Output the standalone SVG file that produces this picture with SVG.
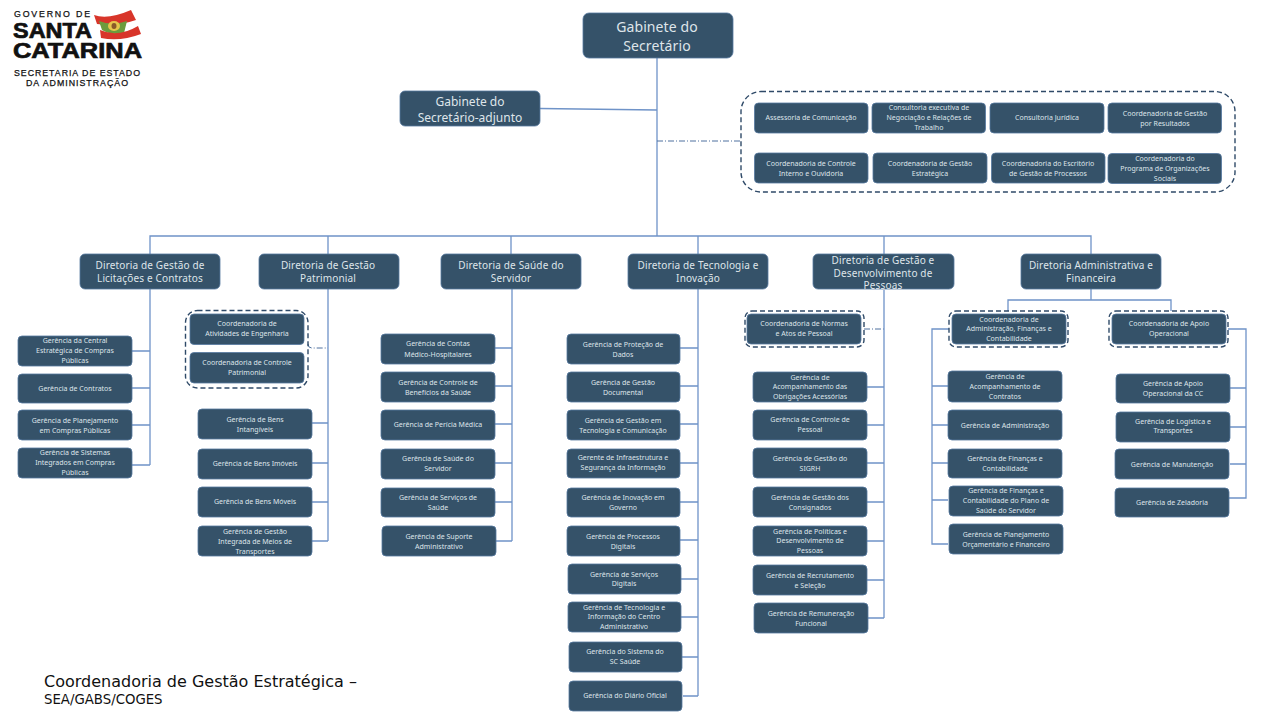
<svg xmlns="http://www.w3.org/2000/svg" width="1280" height="720" viewBox="0 0 1280 720">
<style>
text{font-family:"Noto Sans","DejaVu Sans",sans-serif;text-anchor:middle}
.n{fill:#355269;stroke:#55789f;stroke-width:.8}
.t{fill:#dfe5ea}
.s{font-size:7px}
.m{font-size:10px;letter-spacing:.15px}
.l{font-size:14px;letter-spacing:.1px}
.c{fill:none;stroke:#6f93c8;stroke-width:1.3}
.d{fill:none;stroke:#2f4a68;stroke-width:1.4;stroke-dasharray:5 3}
.dd{fill:none;stroke:#4f719f;stroke-width:1;stroke-dasharray:6 2 1 2}
.f{font-family:"DejaVu Sans",sans-serif;text-anchor:start;fill:#111}
.lg{fill:#111;font-family:"Liberation Sans",sans-serif;text-anchor:start;stroke:#111}
.lb{font-weight:700;font-size:22.300px;stroke-width:.7}
.lr{font-size:8.800px;stroke-width:.25}
</style>
<rect width="1280" height="720" fill="#fff"/>
<g id="connectors">
<path class="c" d="M657 58V236M150 254V236H1091V254M328 236V254M511 236V254M698 236V254M884 236V254M540 108.500L657 110"/>
<path class="dd" d="M657 141H741M308 344Q308 348 312 348H328M864 329H884"/>
<path class="c" d="M150 289V465M132 351H150M132 388H150M132 425H150M132 465H150"/>
<path class="c" d="M328 289V541M312 423H328M312 463H328M312 502H328M312 541H328"/>
<path class="c" d="M512 289V541M495 348H512M495 386H512M495 424H512M495 463H512M495 502H512M496 541H512"/>
<path class="c" d="M698 289V696M680 348H698M680 386H698M680 424H698M680 463H698M680 502H698M680 540H698M681 579H698M681 617H698M682 657H698M683 696H698"/>
<path class="c" d="M884 290V618M867 387H884M867 425H884M867 463H884M867 502H884M867 541H884M867 580H884M868 618H884"/>
<path class="c" d="M1091 289V300M1008 311V300H1171V311M949 329H932V544H948M932 386H948M932 425H948M932 463H948M932 500H948"/>
<path class="c" d="M1228 329H1246V498H1229M1230 388H1246M1230 427H1246M1230 464H1246"/>
</g>
<g id="logo">
<text class="lg lr" x="14" y="16.500" textLength="76" lengthAdjust="spacing">GOVERNO DE</text>
<text class="lg lb" x="13" y="37.500" textLength="79" lengthAdjust="spacingAndGlyphs">SANTA</text>
<text class="lg lb" x="13" y="58" textLength="129" lengthAdjust="spacingAndGlyphs">CATARINA</text>
<text class="lg lr" x="14" y="75.500" textLength="126" lengthAdjust="spacing">SECRETARIA DE ESTADO</text>
<text class="lg lr" x="26" y="86" textLength="102" lengthAdjust="spacing">DA ADMINISTRAÇÃO</text>
<path d="M94 15Q108 20 131 10L136 20Q118 26 107 25L97 24Z" fill="#d8352a"/>
<path d="M99 21Q112 26 127 21L124 33Q112 36 102 30Z" fill="#6c9c3d"/>
<ellipse cx="114" cy="26" rx="6" ry="5" fill="#e5c64c"/>
<ellipse cx="114" cy="26" rx="2.500" ry="3" fill="#8a5a2a"/>
<path d="M100 30Q118 38 138 26L141 34Q120 42 101 38Z" fill="#d8352a"/>
</g>
<g id="gabinete"><rect class="n" x="583" y="13" width="150" height="45" rx="6"/><text class="t l" x="657" y="32">Gabinete do</text><text class="t l" x="657" y="51">Secretário</text></g>
<g id="adjunto"><rect class="n" x="400" y="91" width="140" height="35" rx="5"/><text class="t" style="font-size:12px" x="470" y="106">Gabinete do</text><text class="t" style="font-size:12px" x="470" y="122">Secretário-adjunto</text></g>
<g id="assessorias"><rect class="d" x="741" y="91.500" width="494" height="100.500" rx="20"/>
<rect class="n" x="754.500" y="103" width="113.500" height="30" rx="4"/><text class="t s" x="811" y="120">Assessoria de Comunicação</text>
<rect class="n" x="872" y="103" width="113.500" height="30" rx="4"/><text class="t s" x="929" y="110">Consultoria executiva de</text><text class="t s" x="929" y="120">Negociação e Relações de</text><text class="t s" x="929" y="130">Trabalho</text>
<rect class="n" x="990" y="103" width="114" height="30" rx="4"/><text class="t s" x="1047" y="120">Consultoria Jurídica</text>
<rect class="n" x="1108" y="103" width="113.500" height="30" rx="4"/><text class="t s" x="1165" y="116">Coordenadoria de Gestão</text><text class="t s" x="1165" y="126">por Resultados</text>
<rect class="n" x="754.500" y="153" width="113.500" height="30" rx="4"/><text class="t s" x="811" y="166">Coordenadoria de Controle</text><text class="t s" x="811" y="176">Interno e Ouvidoria</text>
<rect class="n" x="873" y="153" width="114" height="30" rx="4"/><text class="t s" x="930" y="166">Coordenadoria de Gestão</text><text class="t s" x="930" y="176">Estratégica</text>
<rect class="n" x="991.500" y="153" width="113.500" height="30" rx="4"/><text class="t s" x="1048" y="166">Coordenadoria do Escritório</text><text class="t s" x="1048" y="176">de Gestão de Processos</text>
<rect class="n" x="1108" y="153.500" width="113.500" height="30" rx="4"/><text class="t s" x="1165" y="161">Coordenadoria do</text><text class="t s" x="1165" y="171">Programa de Organizações</text><text class="t s" x="1165" y="181">Sociais</text>
</g>
<g id="dir1"><rect class="n" x="80" y="254" width="140" height="35" rx="5"/><text class="t m" x="150" y="269">Diretoria de Gestão de</text><text class="t m" x="150" y="282">Licitações e Contratos</text></g>
<g id="dir2"><rect class="n" x="259" y="254" width="140" height="35" rx="5"/><text class="t m" x="328" y="269">Diretoria de Gestão</text><text class="t m" x="328" y="282">Patrimonial</text></g>
<g id="dir3"><rect class="n" x="441" y="254" width="140" height="35" rx="5"/><text class="t m" x="511" y="269">Diretoria de Saúde do</text><text class="t m" x="511" y="282">Servidor</text></g>
<g id="dir4"><rect class="n" x="628" y="254" width="140" height="35" rx="5"/><text class="t m" x="698" y="269">Diretoria de Tecnologia e</text><text class="t m" x="698" y="282">Inovação</text></g>
<g id="dir5"><rect class="n" x="813" y="254" width="141" height="35" rx="5"/><text class="t m" x="883" y="264">Diretoria de Gestão e</text><text class="t m" x="883" y="277">Desenvolvimento de</text><text class="t m" x="883" y="289">Pessoas</text></g>
<g id="dir6"><rect class="n" x="1021" y="254" width="140" height="35" rx="5"/><text class="t m" x="1091" y="269">Diretoria Administrativa e</text><text class="t m" x="1091" y="282">Financeira</text></g>
<g id="col1">
<rect class="n" x="18" y="336" width="114" height="30" rx="4"/><text class="t s" x="75" y="343">Gerência da Central</text><text class="t s" x="75" y="353">Estratégica de Compras</text><text class="t s" x="75" y="363">Públicas</text>
<rect class="n" x="18" y="374" width="114" height="29" rx="4"/><text class="t s" x="75" y="391">Gerência de Contratos</text>
<rect class="n" x="18" y="410" width="114" height="30" rx="4"/><text class="t s" x="75" y="423">Gerência de Planejamento</text><text class="t s" x="75" y="433">em Compras Públicas</text>
<rect class="n" x="18" y="448" width="114" height="30" rx="4"/><text class="t s" x="75" y="455">Gerência de Sistemas</text><text class="t s" x="75" y="465">Integrados em Compras</text><text class="t s" x="75" y="475">Públicas</text>
</g>
<g id="col2">
<rect class="d" x="185.500" y="310.500" width="122.500" height="77.500" rx="12"/>
<rect class="n" x="190" y="314" width="114" height="30.500" rx="4"/><text class="t s" x="247" y="326">Coordenadoria de</text><text class="t s" x="247" y="336">Atividades de Engenharia</text>
<rect class="n" x="190" y="352.500" width="114" height="30.500" rx="4"/><text class="t s" x="247" y="365">Coordenadoria de Controle</text><text class="t s" x="247" y="375">Patrimonial</text>
<rect class="n" x="198" y="409" width="114" height="30" rx="4"/><text class="t s" x="255" y="422">Gerência de Bens</text><text class="t s" x="255" y="432">Intangíveis</text>
<rect class="n" x="198" y="449" width="114" height="30" rx="4"/><text class="t s" x="255" y="466">Gerência de Bens Imóveis</text>
<rect class="n" x="198" y="487" width="114" height="30" rx="4"/><text class="t s" x="255" y="504">Gerência de Bens Móveis</text>
<rect class="n" x="198" y="526" width="114" height="30" rx="4"/><text class="t s" x="255" y="534">Gerência de Gestão</text><text class="t s" x="255" y="544">Integrada de Meios de</text><text class="t s" x="255" y="554">Transportes</text>
</g>
<g id="col3">
<rect class="n" x="381" y="334" width="114" height="30" rx="4"/><text class="t s" x="438" y="346">Gerência de Contas</text><text class="t s" x="438" y="357">Médico-Hospitalares</text>
<rect class="n" x="381" y="372" width="114" height="30" rx="4"/><text class="t s" x="438" y="385">Gerência de Controle de</text><text class="t s" x="438" y="395">Benefícios da Saúde</text>
<rect class="n" x="381" y="410" width="114" height="30" rx="4"/><text class="t s" x="438" y="427">Gerência de Perícia Médica</text>
<rect class="n" x="381" y="449" width="114" height="30" rx="4"/><text class="t s" x="438" y="461">Gerência de Saúde do</text><text class="t s" x="438" y="471">Servidor</text>
<rect class="n" x="381" y="488" width="114" height="29" rx="4"/><text class="t s" x="438" y="500">Gerência de Serviços de</text><text class="t s" x="438" y="510">Saúde</text>
<rect class="n" x="382" y="526" width="114" height="30" rx="4"/><text class="t s" x="439" y="539">Gerência de Suporte</text><text class="t s" x="439" y="549">Administrativo</text>
</g>
<g id="col4">
<rect class="n" x="567" y="334" width="113" height="30" rx="4"/><text class="t s" x="623" y="347">Gerência de Proteção de</text><text class="t s" x="623" y="357">Dados</text>
<rect class="n" x="567" y="372" width="113" height="30" rx="4"/><text class="t s" x="623" y="385">Gerência de Gestão</text><text class="t s" x="623" y="395">Documental</text>
<rect class="n" x="567" y="410" width="113" height="30" rx="4"/><text class="t s" x="623" y="423">Gerência de Gestão em</text><text class="t s" x="623" y="433">Tecnologia e Comunicação</text>
<rect class="n" x="567" y="449" width="113" height="29" rx="4"/><text class="t s" x="623" y="460">Gerente de Infraestrutura e</text><text class="t s" x="623" y="470">Segurança da Informação</text>
<rect class="n" x="567" y="488" width="113" height="29" rx="4"/><text class="t s" x="623" y="500">Gerência de Inovação em</text><text class="t s" x="623" y="510">Governo</text>
<rect class="n" x="567" y="526" width="113" height="30" rx="4"/><text class="t s" x="623" y="539">Gerência de Processos</text><text class="t s" x="623" y="549">Digitais</text>
<rect class="n" x="568" y="564" width="113" height="30" rx="4"/><text class="t s" x="624" y="577">Gerência de Serviços</text><text class="t s" x="624" y="586">Digitais</text>
<rect class="n" x="568" y="602" width="113" height="30" rx="4"/><text class="t s" x="624" y="610">Gerência de Tecnologia e</text><text class="t s" x="624" y="619">Informação do Centro</text><text class="t s" x="624" y="629">Administrativo</text>
<rect class="n" x="569" y="642" width="113" height="30" rx="4"/><text class="t s" x="625" y="654">Gerência do Sistema do</text><text class="t s" x="625" y="664">SC Saúde</text>
<rect class="n" x="569" y="681" width="113" height="30" rx="4"/><text class="t s" x="625" y="698">Gerência do Diário Oficial</text>
</g>
<g id="col5">
<rect class="d" x="745" y="311" width="119" height="36" rx="7"/>
<rect class="n" x="747" y="314" width="114" height="30" rx="4"/><text class="t s" x="804" y="326">Coordenadoria de Normas</text><text class="t s" x="804" y="336">e Atos de Pessoal</text>
<rect class="n" x="753" y="372" width="114" height="30" rx="4"/><text class="t s" x="810" y="380">Gerência de</text><text class="t s" x="810" y="389">Acompanhamento das</text><text class="t s" x="810" y="399">Obrigações Acessórias</text>
<rect class="n" x="753" y="410" width="114" height="30" rx="4"/><text class="t s" x="810" y="422">Gerência de Controle de</text><text class="t s" x="810" y="432">Pessoal</text>
<rect class="n" x="753" y="448" width="114" height="30" rx="4"/><text class="t s" x="810" y="461">Gerência de Gestão do</text><text class="t s" x="810" y="471">SIGRH</text>
<rect class="n" x="753" y="487" width="114" height="30" rx="4"/><text class="t s" x="810" y="500">Gerência de Gestão dos</text><text class="t s" x="810" y="510">Consignados</text>
<rect class="n" x="753" y="526" width="114" height="30" rx="4"/><text class="t s" x="810" y="534">Gerência de Políticas e</text><text class="t s" x="810" y="543">Desenvolvimento de</text><text class="t s" x="810" y="553">Pessoas</text>
<rect class="n" x="753" y="565" width="114" height="30" rx="4"/><text class="t s" x="810" y="578">Gerência de Recrutamento</text><text class="t s" x="810" y="588">e Seleção</text>
<rect class="n" x="754" y="603" width="114" height="30" rx="4"/><text class="t s" x="811" y="616">Gerência de Remuneração</text><text class="t s" x="811" y="626">Funcional</text>
</g>
<g id="col6">
<rect class="d" x="949" y="311" width="119" height="36" rx="7"/>
<rect class="n" x="952" y="314" width="114" height="30" rx="4"/><text class="t s" x="1009" y="322">Coordenadoria de</text><text class="t s" x="1009" y="331">Administração, Finanças e</text><text class="t s" x="1009" y="341">Contabilidade</text>
<rect class="d" x="1109" y="311" width="119" height="36" rx="7"/>
<rect class="n" x="1112" y="314" width="114" height="30" rx="4"/><text class="t s" x="1169" y="326">Coordenadoria de Apoio</text><text class="t s" x="1169" y="336">Operacional</text>
<rect class="n" x="948" y="371" width="114" height="31" rx="4"/><text class="t s" x="1005" y="379">Gerência de</text><text class="t s" x="1005" y="389">Acompanhamento de</text><text class="t s" x="1005" y="399">Contratos</text>
<rect class="n" x="948" y="410" width="114" height="30" rx="4"/><text class="t s" x="1005" y="428">Gerência de Administração</text>
<rect class="n" x="948" y="449" width="114" height="29" rx="4"/><text class="t s" x="1005" y="461">Gerência de Finanças e</text><text class="t s" x="1005" y="471">Contabilidade</text>
<rect class="n" x="949" y="486" width="114" height="30" rx="4"/><text class="t s" x="1006" y="493">Gerência de Finanças e</text><text class="t s" x="1006" y="503">Contabilidade do Plano de</text><text class="t s" x="1006" y="513">Saúde do Servidor</text>
<rect class="n" x="949" y="524" width="114" height="30" rx="4"/><text class="t s" x="1006" y="537">Gerência de Planejamento</text><text class="t s" x="1006" y="547">Orçamentário e Financeiro</text>
<rect class="n" x="1116" y="374" width="114" height="29" rx="4"/><text class="t s" x="1173" y="386">Gerência de Apoio</text><text class="t s" x="1173" y="396">Operacional da CC</text>
<rect class="n" x="1116" y="412" width="114" height="30" rx="4"/><text class="t s" x="1173" y="424">Gerência de Logística e</text><text class="t s" x="1173" y="433">Transportes</text>
<rect class="n" x="1115" y="449" width="114" height="30" rx="4"/><text class="t s" x="1172" y="467">Gerência de Manutenção</text>
<rect class="n" x="1115" y="488" width="114" height="29" rx="4"/><text class="t s" x="1172" y="505">Gerência de Zeladoria</text>
</g>
<g id="footer">
<text class="f" x="44" y="687" style="font-size:16px">Coordenadoria de Gestão Estratégica –</text>
<text class="f" x="44" y="704" style="font-size:13.300px">SEA/GABS/COGES</text>
</g>
</svg>
